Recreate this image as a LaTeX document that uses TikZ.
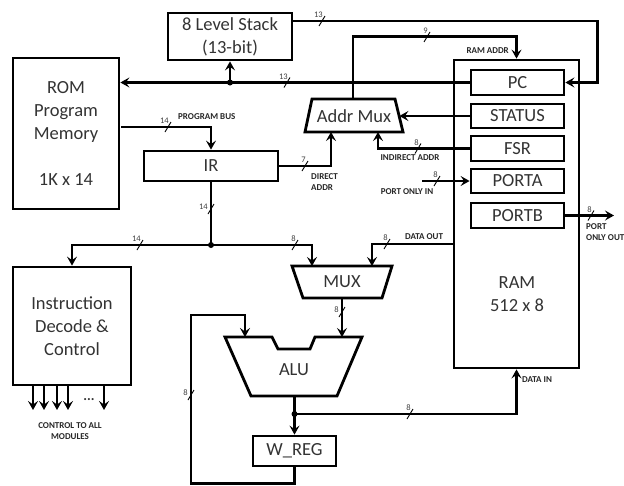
\documentclass[tikz,border=0pt]{standalone}
\usepackage{fontspec}
\setmainfont{Carlito}
\usetikzlibrary{arrows.meta,calc}
\newcommand\bwh[4]{\draw[slash] (#1-3,#2+5) -- (#1+3,#2-5); \node[num, anchor=south east] (#4) at (#1+1,#2-3) {#3};}
\newcommand\bwv[4]{\draw[slash] (#1-3,#2+5) -- (#1+3,#2-5); \node[num, anchor=east] (#4) at (#1-3,#2-2) {#3};}
\begin{document}
\begin{tikzpicture}[x=1pt,y=-1pt,
  box/.style={draw, line width=2.8pt, text=black!80},
  wire/.style={line width=2.3pt},
  arr/.style={wire,-{Stealth[length=9pt,width=10pt,inset=3.5pt]}},
  big/.style={font=\fontsize{18.5}{23}\selectfont, align=center},
  tag/.style={font=\fontsize{9}{11.5}\selectfont\bfseries, inner sep=0pt, text=black!85},
  num/.style={font=\fontsize{8.5}{9}\selectfont, inner sep=0pt, text=black!75},
  slash/.style={line width=0.9pt},
  dot/.style={circle, fill, inner sep=0pt, minimum size=6pt}]
\useasboundingbox (0,0) rectangle (624,485);

% boxes
\node[box, big, minimum width=124pt, minimum height=47pt] (stack) at (230,36.5) {8 Level Stack\\(13-bit)};
\node[box, big, minimum width=106pt, minimum height=151pt] (rom) at (66,133.5) {ROM\\Program\\Memory\\[23pt]1K x 14};
\node[box, big, minimum width=134pt, minimum height=30pt] (ir) at (211,166) {IR};
\node[box, big, minimum width=118pt, minimum height=118pt] (instr) at (72,326) {Instruction\\Decode \&\\Control};
\node[box, minimum width=125pt, minimum height=308pt] (ram) at (516.5,214) {};
\node[big, text=black!80] (ramtxt) at (517,294) {RAM\\512 x 8};
\node[box, big, minimum width=93pt, minimum height=25pt] (pc) at (517.5,82.5) {PC};
\node[box, big, minimum width=93pt, minimum height=24pt] (status) at (517.5,116) {STATUS};
\node[box, big, minimum width=93pt, minimum height=25pt] (fsr) at (517.5,148.5) {FSR};
\node[box, big, minimum width=93pt, minimum height=24pt] (porta) at (517.5,181) {PORTA};
\node[box, big, minimum width=93pt, minimum height=25pt] (portb) at (517.5,215.5) {PORTB};
\node[box, big, minimum width=83pt, minimum height=30pt] (wreg) at (294.5,451) {W\_REG};

% trapezoids
\draw[box] (312,99) -- (395,99) -- (403,132) -- (305,132) -- cycle;
\node[big, text=black!80] (amux) at (354,116) {Addr Mux};
\draw[box] (292,266) -- (392,266) -- (382,298) -- (303,298) -- cycle;
\node[big, text=black!80] (mux) at (342,282) {MUX};
\draw[box] (225,337) -- (272,337) -- (278,349) -- (310,349) -- (315,337) -- (362,337) -- (337,396) -- (251,396) -- cycle;
\node[big, text=black!80] (alu) at (294,370) {ALU};

% named points
\coordinate (amtop) at (353,99);
\coordinate (amR) at (399.4,116);
\coordinate (amB1) at (331,132);
\coordinate (amB2) at (378,132);
\coordinate (muxA) at (312,266);
\coordinate (muxB) at (372,266);
\coordinate (muxO) at (342,298);
\coordinate (aluA) at (245,337);
\coordinate (aluB) at (342,337);
\coordinate (aluO) at (294.5,396);
\coordinate (s1) at (293,21);
\coordinate (romA) at (121,127);
\coordinate (dout) at (453,244);
\coordinate (pin) at (422,181);
\coordinate (pout) at (614,215.5);
\coordinate (fb1) at (191,315);

% PC -> ROM, stack
\draw[arr] (pc.west) -- (pc.west -| rom.east);
\node[dot] (j1) at (230,82.5) {};
\draw[arr] (j1.center) -- (stack.south);
\bwh{287}{82.5}{13}{n1}
% stack -> PC
\draw[arr] (s1) -| ($(pc.east)+(32,0)$) -- (pc.east);
\bwh{322}{21}{13}{n2}
% RAM ADDR
\draw[arr] (amtop) |- ($(ram.north)+(0,-22)$) -- (ram.north);
\bwh{427}{37}{9}{n3}
\node[tag, anchor=east] (ramaddr) at (509,51) {RAM ADDR};
% STATUS -> addr mux
\draw[arr] (status.west) -- (amR);
% FSR -> addr mux
\draw[arr] (fsr.west) -| (amB2);
\bwh{418}{148.5}{8}{n4}
\node[tag] (indaddr) at (410,158) {INDIRECT ADDR};
% IR -> addr mux
\draw[arr] (ir.east) -| (amB1);
\bwh{305}{166}{7}{n5}
\node[tag, anchor=north west, align=left] (diraddr) at (311,173) {DIRECT\\ADDR};
% ROM -> IR
\draw[arr] (romA) -| (ir.north);
\bwh{168}{127}{14}{n6}
\node[tag, anchor=west] (pbus) at (178,117) {PROGRAM BUS};
% IR -> junction
\node[dot] (j2) at (211,245) {};
\draw[wire] (ir.south) -- (j2.center);
\bwv{211}{209}{14}{n7}
\draw[arr] (j2.center) -| (instr.north);
\bwh{140}{245}{14}{n8}
\draw[arr] (j2.center) -| (muxA);
\bwh{295}{245}{8}{n9}
% DATA OUT
\draw[arr] (dout) -| (muxB);
\bwh{387}{244}{8}{n10}
\node[tag, anchor=west] (dataout) at (405,237) {DATA OUT};
% PORT IN
\draw[arr] (pin) -- (porta.west);
\bwh{437}{181}{8}{n11}
\node[tag] (portin) at (407,192) {PORT ONLY IN};
% PORT OUT
\draw[arr] (portb.east) -- (pout);
\bwh{591}{215.5}{8}{n12}
\node[tag, anchor=north west, align=left] (portout) at (586,223) {PORT\\ONLY OUT};
% MUX -> ALU
\draw[arr] (muxO) -- (aluB);
\bwv{342}{312}{8}{n13}
% ALU -> W_REG, DATA IN
\draw[arr] (aluO) -- (wreg.north);
\node[dot] (j3) at (294.5,414) {};
\draw[arr] (j3.center) -| (ram.south);
\bwh{410}{414}{8}{n14}
\node[tag, anchor=west] (datain) at (522,380) {DATA IN};
% feedback
\draw[arr] (wreg.south) -- ++(0,16) -| (fb1) -| (aluA);
\bwv{191}{395}{8}{n15}
% control outputs
\foreach \x/\n in {33/c1,44/c2,57/c3,68/c4,104/c5} {
  \coordinate (\n) at (\x,386);
  \draw[arr] (\n) -- ++(0,24);
}
\node[font=\fontsize{14}{14}\selectfont\bfseries, text=black!80] (dots) at (89,400) {...};
\node[tag, align=center] (ctrl) at (70,431) {CONTROL TO ALL\\MODULES};
\end{tikzpicture}
\end{document}
